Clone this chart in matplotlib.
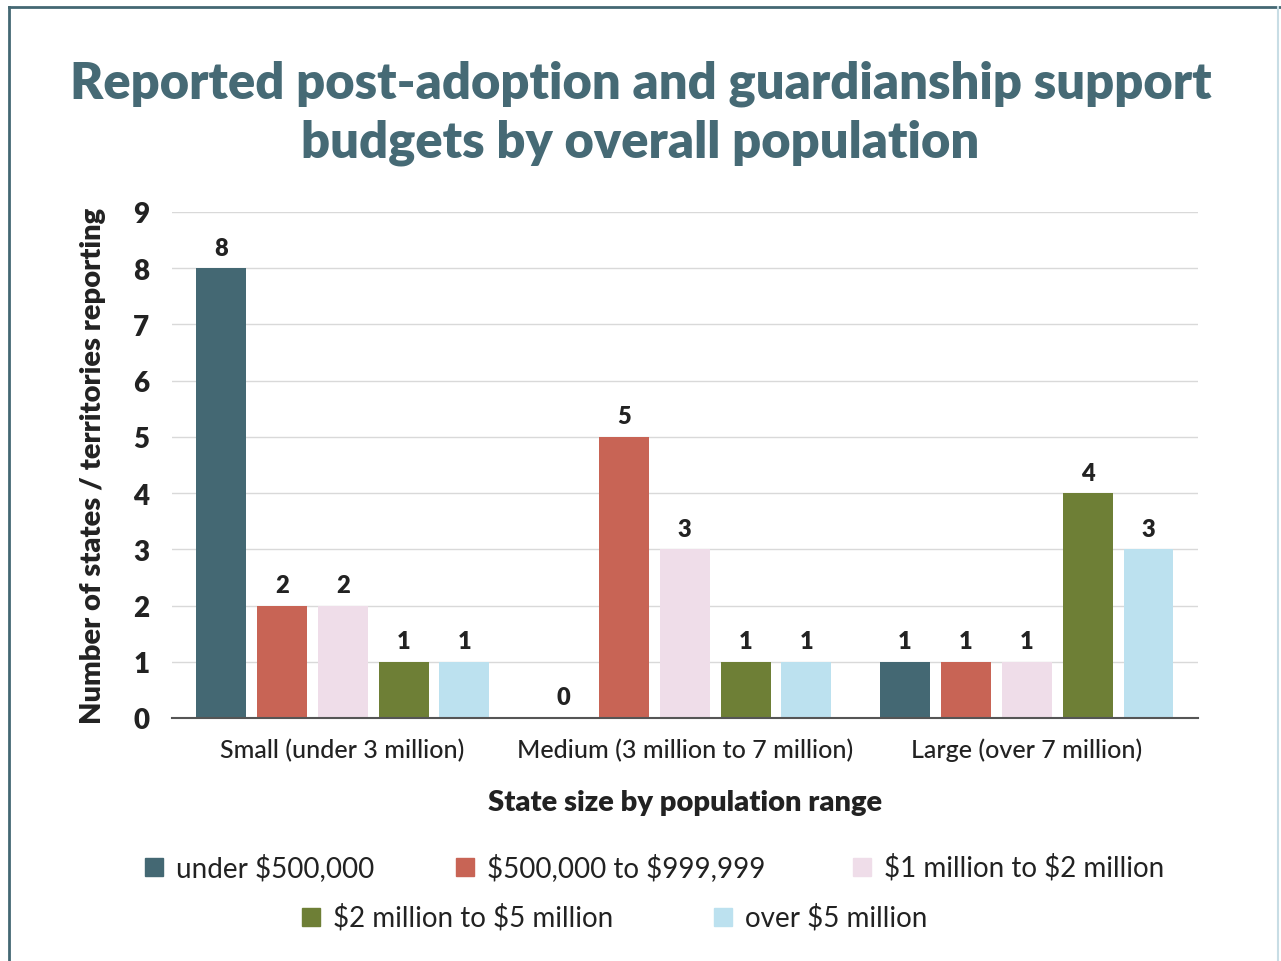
import numpy as np
import matplotlib.pyplot as plt
from matplotlib.patches import Rectangle

plt.rcParams['font.family'] = ['Lato', 'DejaVu Sans']
plt.rcParams['text.parse_math'] = False

# データ
groups = ['Small (under 3 million)', 'Medium (3 million to 7 million)', 'Large (over 7 million)']
budget_labels = ['under $500,000', '$500,000 to $999,999', '$1 million to $2 million',
                 '$2 million to $5 million', 'over $5 million']
under_500k = [8, 0, 1]
k500_to_999k = [2, 5, 1]
m1_to_m2 = [2, 3, 1]
m2_to_m5 = [1, 1, 4]
over_m5 = [1, 1, 3]
series = [under_500k, k500_to_999k, m1_to_m2, m2_to_m5, over_m5]
colors = ['#446873', '#C86455', '#EFDDE9', '#6E7F36', '#BCE1EF']
title_color = '#466A75'

fig = plt.figure(figsize=(12.81, 9.62), dpi=100)
ax = fig.add_axes([0.134, 0.2526, 0.801, 0.526])

x = np.arange(len(groups))
step = 0.178
width = 0.146
for i, vals in enumerate(series):
    b = ax.bar(x + (i - 2) * step, vals, width, color=colors[i], zorder=3)
    for rect, v in zip(b, vals):
        ax.text(rect.get_x() + rect.get_width() / 2, v + 0.17, str(v),
                ha='center', va='bottom', fontsize=17, fontweight='heavy', color='#222222')

ax.set_xlim(-0.5, 2.5)
ax.set_ylim(0, 9)
ax.set_yticks(range(10))
ax.tick_params(axis='y', length=0, labelsize=20, pad=16, labelcolor='#222222')
for lab in ax.get_yticklabels():
    lab.set_fontweight('heavy')
ax.set_xticks(x)
ax.set_xticklabels(groups, fontsize=18, color='#222222', fontweight='medium')
ax.tick_params(axis='x', length=0, pad=14)
ax.grid(axis='y', color='#d9d9d9', linewidth=1, zorder=0)
for s in ['top', 'right', 'left']:
    ax.spines[s].set_visible(False)
ax.spines['bottom'].set_color('#555555')
ax.spines['bottom'].set_linewidth(1.5)
ax.spines['bottom'].set_zorder(4)

ax.set_xlabel('State size by population range', fontsize=21, fontweight='heavy',
              color='#222222', labelpad=20)
ax.set_ylabel('Number of states / territories reporting', fontsize=21, fontweight='heavy',
              color='#222222', labelpad=20)

fig.text(0.5, 0.882, 'Reported post-adoption and guardianship support\nbudgets by overall population',
         ha='center', va='center', fontsize=36.5, fontweight='heavy', color=title_color,
         linespacing=1.32)

# 凡例 (手動配置)
leg_pos = [(145, 868), (456, 868), (853, 868), (302, 918), (714, 918)]
for (px, py), lab, c in zip(leg_pos, budget_labels, colors):
    fig.patches.append(Rectangle((px / 1281, 1 - (py + 9) / 962), 18 / 1281, 18 / 962,
                                 transform=fig.transFigure, color=c))
    fig.text((px + 31) / 1281, 1 - py / 962, lab, ha='left', va='center',
             fontsize=20, color='#222222')

# 枠線
fig.add_artist(plt.Line2D([9 / 1281, 9 / 1281], [0, 1 - 8 / 962],
                          transform=fig.transFigure, color='#446873', linewidth=2))
fig.add_artist(plt.Line2D([9 / 1281, 1], [1 - 8 / 962, 1 - 8 / 962],
                          transform=fig.transFigure, color='#446873', linewidth=2))
fig.add_artist(plt.Line2D([1278 / 1281, 1278 / 1281], [0, 1 - 8 / 962],
                          transform=fig.transFigure, color='#c8dde5', linewidth=1.5))

fig.savefig('out.png', dpi=100)
